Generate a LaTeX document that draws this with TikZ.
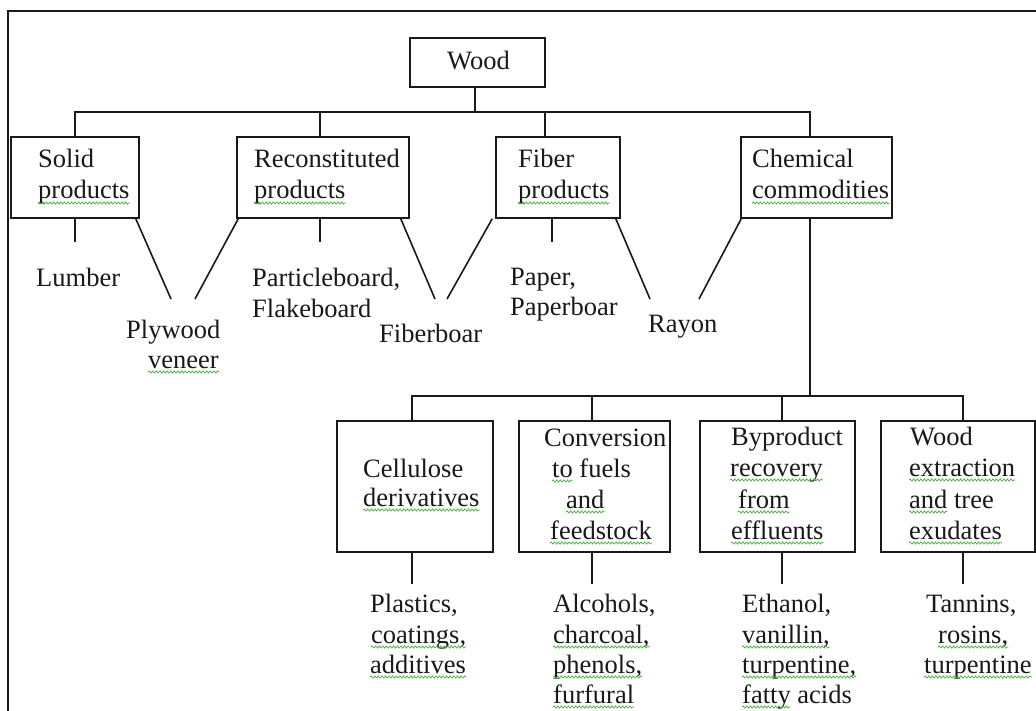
\documentclass[tikz,border=0pt]{standalone}
\usepackage{fontspec}
\setmainfont{Liberation Serif}
\usetikzlibrary{decorations.pathmorphing}
\definecolor{sqgreen}{RGB}{70,175,60}
\definecolor{ink}{RGB}{25,25,25}
\newcommand\wline[4]{\node[txt] (#1) at (#2,#3) {#4};}
\begin{document}
\begin{tikzpicture}[x=1pt,y=-1pt,
  ln/.style={draw=ink,line width=1.6pt},
  box/.style={draw=ink,line width=1.6pt,rectangle,inner sep=0pt},
  txt/.style={anchor=base west,inner sep=0pt,text=ink,font=\fontsize{26.5}{30}\selectfont},
  sq/.style={draw=sqgreen,line width=0.7pt,decorate,decoration={snake,amplitude=1.1pt,segment length=3.6pt}}]
\useasboundingbox (0,0) rectangle (1036,711);
% outer frame
\draw[ink,line width=1.4pt] (8,711) -- (8,11) -- (1036,11);
% boxes
\node[box,minimum width=135pt,minimum height=49pt] (wood) at (477.5,62.5) {};
\node[box,minimum width=128pt,minimum height=81pt] (solid) at (75,177.5) {};
\node[box,minimum width=172pt,minimum height=81pt] (recon) at (323,177.5) {};
\node[box,minimum width=124pt,minimum height=81pt] (fiber) at (558,177.5) {};
\node[box,minimum width=151pt,minimum height=81pt] (chem) at (816.5,177.5) {};
\node[box,minimum width=156pt,minimum height=131pt] (cell) at (415,486.5) {};
\node[box,minimum width=151pt,minimum height=131pt] (conv) at (594.5,486.5) {};
\node[box,minimum width=155pt,minimum height=131pt] (byp) at (777.5,486.5) {};
\node[box,minimum width=154pt,minimum height=131pt] (extr) at (958,486.5) {};
% texts in boxes
\wline{woodT}{447}{70}{Wood}
\wline{solidA}{38}{168}{Solid}
\wline{solidB}{38}{199}{products}
\wline{reconA}{254}{168}{Reconstituted}
\wline{reconB}{254}{199}{products}
\wline{fiberA}{518}{168}{Fiber}
\wline{fiberB}{518}{199}{products}
\wline{chemA}{752}{168}{Chemical}
\wline{chemB}{752}{199}{commodities}
\wline{cellA}{363}{477}{Cellulose}
\wline{cellB}{363}{506}{derivatives}
\wline{convA}{544}{446}{Conversion}
\wline{convB}{552}{477}{to fuels}
\wline{convC}{566}{508}{and}
\wline{convD}{550}{539}{feedstock}
\wline{bypA}{731}{445}{Byproduct}
\wline{bypB}{730}{476}{recovery}
\wline{bypC}{738}{508}{from}
\wline{bypD}{731}{539}{effluents}
\wline{extA}{910}{445}{Wood}
\wline{extB}{909}{476}{extraction}
\wline{extC}{909}{508}{and tree}
\wline{extD}{909}{539}{exudates}
% leaf texts
\wline{lumber}{36}{287}{Lumber}
\wline{plyA}{126}{338}{Plywood}
\wline{plyB}{148}{368}{veneer}
\wline{partA}{252}{287}{Particleboard,}
\wline{partB}{252}{317}{Flakeboard}
\wline{fibboard}{379}{342}{Fiberboar}
\wline{papA}{510}{286}{Paper,}
\wline{papB}{510}{316}{Paperboar}
\wline{rayon}{648}{333}{Rayon}
\wline{plA}{370}{612}{Plastics,}
\wline{plB}{371}{643}{coatings,}
\wline{plC}{370}{673}{additives}
\wline{alA}{553}{612}{Alcohols,}
\wline{alB}{553}{643}{charcoal,}
\wline{alC}{553}{673}{phenols,}
\wline{alD}{553}{703}{furfural}
\wline{etA}{742}{612}{Ethanol,}
\wline{etB}{742}{643}{vanillin,}
\wline{etC}{742}{673}{turpentine,}
\wline{etD}{742}{703}{fatty acids}
\wline{taA}{926}{612}{Tannins,}
\wline{taB}{938}{643}{rosins,}
\wline{taC}{924}{673}{turpentine}
% connectors level 0 -> 1
\draw[ln] (wood.south -| 475,0) -- (475,112);
\draw[ln] (solid.north) |- (810,112) -- (chem.north -| 810,0);
\draw[ln] (recon.north -| 320,0) -- (320,112);
\draw[ln] (fiber.north -| 545,0) -- (545,112);
% free ends
\coordinate (eLum) at (75,242);
\coordinate (ePly1) at (171,299);
\coordinate (ePly2) at (195,299);
\coordinate (ePart) at (320,242);
\coordinate (eFb1) at (435,299);
\coordinate (eFb2) at (447,299);
\coordinate (ePap) at (552,242);
\coordinate (eRay1) at (650,299);
\coordinate (eRay2) at (699,299);
\coordinate (eCell) at (412,584);
\coordinate (eConv) at (592,584);
\coordinate (eByp) at (782,584);
\coordinate (eExt) at (963,584);
\draw[ln] (solid.south) -- (eLum);
\draw[ln] ([xshift=-4pt]solid.south east) -- (ePly1);
\draw[ln] ([xshift=2pt]recon.south west) -- (ePly2);
\draw[ln] (recon.south -| 320,0) -- (ePart);
\draw[ln] ([xshift=-9pt]recon.south east) -- (eFb1);
\draw[ln] ([xshift=-3pt]fiber.south west) -- (eFb2);
\draw[ln] (fiber.south -| 552,0) -- (ePap);
\draw[ln] ([xshift=-5pt]fiber.south east) -- (eRay1);
\draw[ln] ([xshift=1pt]chem.south west) -- (eRay2);
% level 1 -> 2
\draw[ln] (chem.south -| 810,0) -- (810,396);
\draw[ln] (cell.north -| 412,0) |- (963,396) -- (extr.north -| 963,0);
\draw[ln] (conv.north -| 592,0) -- (592,396);
\draw[ln] (byp.north -| 782,0) -- (782,396);
\draw[ln] (cell.south -| 412,0) -- (eCell);
\draw[ln] (conv.south -| 592,0) -- (eConv);
\draw[ln] (byp.south -| 782,0) -- (eByp);
\draw[ln] (extr.south -| 963,0) -- (eExt);
% spell-check squiggles
\foreach \n in {solidB,reconB,fiberB,chemB,plyB,cellB,convC,convD,bypB,bypC,bypD,extB,extD,plB,plC,alB,alC,alD,etB,etC,taB,taC}
  \draw[sq] ([yshift=-4pt]\n.base west) -- ([yshift=-4pt]\n.base east);
\draw[sq] ([yshift=-4pt]convB.base west) -- ++(20.6,0);
\draw[sq] ([yshift=-4pt]extC.base west) -- ++(38.3,0);
\draw[sq] ([yshift=-4pt]etD.base west) -- ++(48.6,0);
\end{tikzpicture}
\end{document}
